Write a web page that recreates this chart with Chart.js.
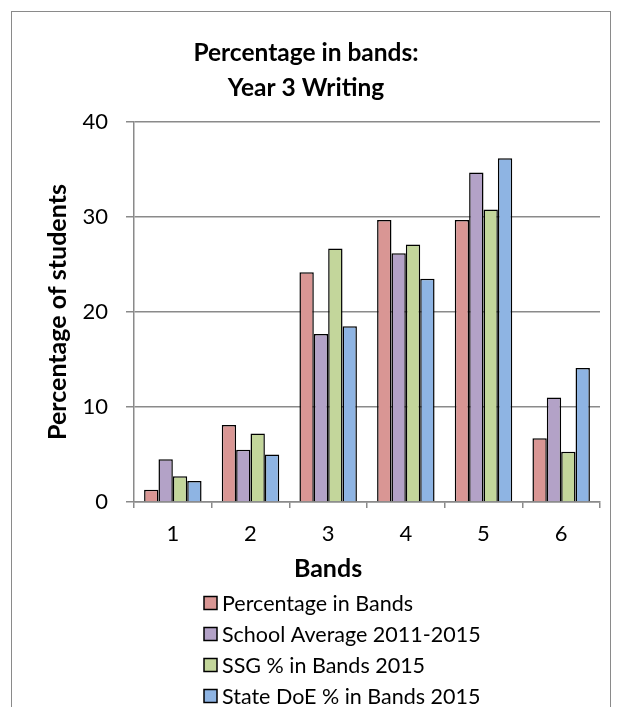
<!DOCTYPE html>
<html>
<head>
<meta charset="utf-8">
<script src="https://cdn.jsdelivr.net/npm/chart.js@4/dist/chart.umd.min.js"></script>
<style>
  html, body { margin: 0; padding: 0; background: #fff; }
  #wrap { position: relative; width: 623px; height: 707px; overflow: hidden; }
  #frame { position: absolute; left: 11px; top: 11px; width: 598px; height: 720px; border: 1.5px solid #8a8a8a; }
  #c { position: absolute; left: 0; top: 0; }
</style>
</head>
<body>
<div id="wrap">
  <div id="frame"></div>
  <canvas id="c" width="623" height="707"></canvas>
</div>
<script>
// Bands 1–6 and the four series compared in each band
const bands = ['1', '2', '3', '4', '5', '6'];
const percentageInBands = [1.3, 8.1, 24.2, 29.7, 29.7, 6.7];
const schoolAverage = [4.5, 5.5, 17.7, 26.2, 34.7, 11.0];
const ssgInBands = [2.7, 7.2, 26.7, 27.1, 30.8, 5.3];
const stateDoeInBands = [2.2, 5.0, 18.5, 23.5, 36.2, 14.1];

const seriesNames = ['Percentage in Bands', 'School Average 2011-2015', 'SSG % in Bands 2015', 'State DoE % in Bands 2015'];
const titleLines = ['Percentage in bands:', 'Year 3 Writing'];
const yTitle = 'Percentage of students';
const xTitle = 'Bands';

const FONT = "Lato, 'Open Sans', sans-serif";
const GRID = '#8a8a8a';

// Axis title for the bands and the stacked legend below the plot
const footer = {
  id: 'footer',
  afterDraw(chart, args, opts) {
    const { ctx, chartArea } = chart;
    ctx.save();
    ctx.fillStyle = '#000';
    ctx.textBaseline = 'middle';
    ctx.textAlign = 'center';
    ctx.font = `bold ${opts.titleSize}px ${FONT}`;
    ctx.fillText(xTitle, chartArea.left + opts.titleX, chartArea.bottom + opts.titleY);

    ctx.textAlign = 'left';
    ctx.font = `${opts.legendSize}px ${FONT}`;
    chart.data.datasets.forEach((ds, i) => {
      const x = chartArea.left + opts.legendX;
      const y = chartArea.bottom + opts.legendY + i * opts.rowHeight;
      ctx.fillStyle = ds.backgroundColor;
      ctx.fillRect(x, y - 6.5, 13, 13);
      ctx.strokeStyle = '#000';
      ctx.lineWidth = 1.5;
      ctx.strokeRect(x, y - 6.5, 13, 13);
      ctx.fillStyle = '#000';
      ctx.fillText(ds.label, x + 18, y + 1);
    });
    ctx.restore();
  }
};

const colors = ['#D99694', '#B3A2C7', '#C3D69B', '#8EB4E3'];
const values = [percentageInBands, schoolAverage, ssgInBands, stateDoeInBands];

new Chart(document.getElementById('c'), {
  type: 'bar',
  data: {
    labels: bands,
    datasets: values.map((v, i) => ({
      label: seriesNames[i],
      data: v,
      backgroundColor: colors[i],
      borderColor: '#000',
      borderWidth: 1.5,
      categoryPercentage: 0.74,
      barPercentage: 1.0
    }))
  },
  options: {
    responsive: false,
    animation: false,
    events: [],
    layout: { padding: { left: 12, top: 12, right: 23, bottom: 115 } },
    plugins: {
      legend: { display: false },
      tooltip: { enabled: false },
      title: {
        display: true,
        text: titleLines,
        color: '#000',
        font: { family: FONT, size: 24.5, weight: 'bold', lineHeight: 1.43 },
        padding: { top: 23.5, bottom: 16.5 }
      },
      footer: { titleSize: 25, titleX: 194, titleY: 67, legendSize: 21.5, legendX: 70, legendY: 101, rowHeight: 31 }
    },
    scales: {
      x: {
        afterFit: (s) => { s.height = 90; },
        grid: { display: true, drawOnChartArea: false, color: GRID, lineWidth: 1.5, tickLength: 6 },
        border: { display: true, color: GRID, width: 1.5 },
        ticks: { color: '#000', font: { family: FONT, size: 22 }, padding: 13 }
      },
      y: {
        min: 0,
        max: 40,
        afterFit: (s) => { s.width = 122; },
        ticks: { stepSize: 10, color: '#000', font: { family: FONT, size: 22 }, padding: 18 },
        grid: { color: GRID, lineWidth: 1.5, tickLength: 8 },
        border: { display: true, color: GRID, width: 1.5 },
        title: {
          display: true,
          text: yTitle,
          color: '#000',
          font: { family: FONT, size: 25, weight: 'bold', lineHeight: 1.2 },
          padding: { top: 31, bottom: 0 }
        }
      }
    }
  },
  plugins: [footer]
});
</script>
</body>
</html>
